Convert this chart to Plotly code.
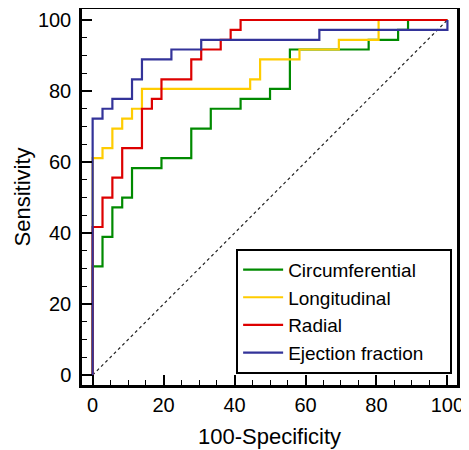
import plotly.graph_objects as go

names = ["Circumferential", "Longitudinal", "Radial", "Ejection fraction"]
colors = ["#008a00", "#ffcc00", "#dd0000", "#333399"]

circ_x = [0, 0, 2.78, 5.56, 8.33, 11.1, 19.4, 27.8, 33.3, 41.7, 50.0, 55.6, 77.8, 86.1, 88.9, 100]
circ_y = [0, 30.6, 38.9, 47.2, 50.0, 58.3, 61.1, 69.4, 75.0, 77.8, 80.6, 91.7, 94.4, 97.2, 100, 100]

long_x = [0, 0, 2.78, 5.56, 8.33, 11.1, 13.9, 44.4, 47.2, 58.3, 69.4, 80.6, 100]
long_y = [0, 61.1, 63.9, 69.4, 72.2, 75.0, 80.6, 83.3, 88.9, 91.7, 94.4, 100, 100]

rad_x = [0, 0, 2.78, 5.56, 8.33, 13.9, 16.7, 19.4, 27.8, 30.6, 36.1, 38.9, 41.7, 100]
rad_y = [0, 41.7, 50.0, 55.6, 63.9, 75.0, 77.8, 83.3, 88.9, 91.7, 94.4, 97.2, 100, 100]

ef_x = [0, 0, 2.78, 5.56, 11.1, 13.9, 22.2, 30.6, 63.9, 100]
ef_y = [0, 72.2, 75.0, 77.8, 83.3, 88.9, 91.7, 94.4, 97.2, 100]

diag = [0, 100]

FONT = "Liberation Sans, Arial, sans-serif"
PAD = "\u00a0" * 4  # invisible padding to widen the legend box like the reference

fig = go.Figure()
fig.add_trace(go.Scatter(x=diag, y=diag, mode="lines", showlegend=False,
                         line=dict(color="#222222", width=1.2, dash="dot"), hoverinfo="skip"))
series = [(circ_x, circ_y), (long_x, long_y), (rad_x, rad_y), (ef_x, ef_y)]
for (xs, ys), n, c in zip(series, names, colors):
    fig.add_trace(go.Scatter(x=xs, y=ys, mode="lines", name=n + PAD, line_shape="hv",
                             line=dict(color=c, width=2.2)))

axis_common = dict(
    showgrid=False, zeroline=False, showline=True, linecolor="black", linewidth=2.5,
    mirror=True, ticks="inside", ticklen=10, tickwidth=2, tickcolor="black",
    dtick=20, tick0=0, automargin=False,
    minor=dict(dtick=5, tick0=0, ticks="inside", ticklen=5, tickwidth=1.3, tickcolor="black"),
    tickfont=dict(family=FONT, size=20, color="black"),
)

# The page body has an 8px margin, so the figure is offset by 8px; compensate.
fig.update_layout(
    width=461, height=442,
    margin=dict(l=74, r=12, t=1, b=65),
    plot_bgcolor="white", paper_bgcolor="white",
    font=dict(family=FONT, color="black"),
    xaxis=dict(range=[-3.0, 102.7], title=dict(text="100-Specificity", font=dict(family=FONT, size=22), standoff=14),
               ticklabelstandoff=0, **axis_common),
    yaxis=dict(range=[-2.8, 103.1], title=dict(text="Sensitivity", font=dict(family=FONT, size=22), standoff=2),
               ticklabelstandoff=4, **axis_common),
    legend=dict(x=0.987, y=0.03, xanchor="right", yanchor="bottom",
                bordercolor="black", borderwidth=2, bgcolor="white",
                font=dict(family=FONT, size=19, color="black"),
                tracegroupgap=0, itemwidth=40),
)

fig.write_html("out.html")
